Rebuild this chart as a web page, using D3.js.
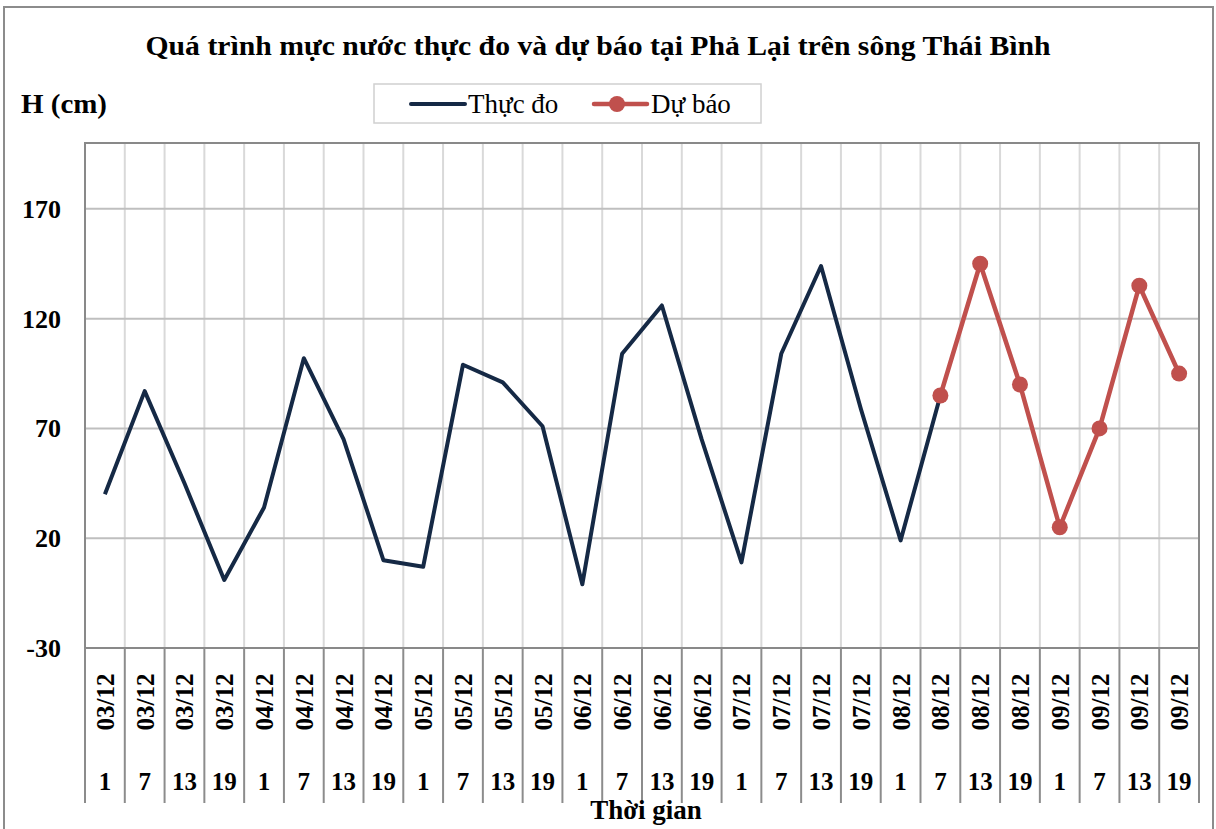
<!DOCTYPE html>
<html>
<head>
<meta charset="utf-8">
<script src="https://cdn.jsdelivr.net/npm/d3@7"></script>
<style>
  body { margin: 0; background: #fff; }
  text { font-family: "Liberation Serif", "Times New Roman", serif; fill: #000; }
</style>
</head>
<body>
<svg id="chart" width="1216" height="829"></svg>
<script>
const days = ["03/12", "04/12", "05/12", "06/12", "07/12", "08/12", "09/12"];
const hours = ["1", "7", "13", "19"];
const measured = [40, 87, 45, 1, 34, 102, 65, 10, 7, 99, 91, 71, -1, 104, 126, 65, 9, 104, 144, 79, 19, 85,
                  null, null, null, null, null, null];
const forecast = [null, null, null, null, null, null, null, null, null, null, null, null, null, null,
                  null, null, null, null, null, null, null, 85, 145, 90, 25, 70, 135, 95];
const yTicks = [-30, 20, 70, 120, 170];

const width = 1216;
const height = 829;
const plotLeft = 85, plotRight = 1199, plotTop = 143, plotBottom = 648;

const cats = [];
days.forEach(d => hours.forEach(h => cats.push({ day: d, hour: h, key: d + " " + h })));

const svg = d3.select("svg#chart");

// outer frame
svg.append("rect")
    .attr("x", 4).attr("y", 7)
    .attr("width", 1209).attr("height", 840)
    .attr("fill", "#fff")
    .attr("stroke", "#8c8c8c")
    .attr("stroke-width", 2);

const x = d3.scaleBand()
    .domain(cats.map(d => d.key))
    .range([plotLeft, plotRight]);

const y = d3.scaleLinear()
    .domain([-30, 200])
    .range([plotBottom, plotTop]);

const cx = i => x(cats[i].key) + x.bandwidth() / 2;

// vertical grid
svg.append("g")
    .attr("stroke", "#d9d9d9")
    .attr("stroke-width", 2)
    .selectAll("line")
    .data(cats.slice(1))
    .join("line")
    .attr("x1", d => x(d.key)).attr("x2", d => x(d.key))
    .attr("y1", plotTop).attr("y2", plotBottom);

// horizontal grid
svg.append("g")
    .attr("stroke", "#bfbfbf")
    .attr("stroke-width", 2)
    .selectAll("line")
    .data(yTicks.slice(1))
    .join("line")
    .attr("x1", plotLeft).attr("x2", plotRight)
    .attr("y1", d => y(d)).attr("y2", d => y(d));

// plot border
svg.append("rect")
    .attr("x", plotLeft).attr("y", plotTop)
    .attr("width", plotRight - plotLeft).attr("height", plotBottom - plotTop)
    .attr("fill", "none")
    .attr("stroke", "#898989")
    .attr("stroke-width", 2);

// y tick labels
svg.append("g")
    .selectAll("text")
    .data(yTicks)
    .join("text")
    .attr("x", 61)
    .attr("y", d => y(d) + 9)
    .attr("text-anchor", "end")
    .attr("font-size", 26)
    .attr("font-weight", "bold")
    .text(d => d);

// category dividers below the axis
const bounds = cats.map(d => x(d.key)).concat([plotRight]);
svg.append("g")
    .attr("stroke", "#8c8c8c")
    .attr("stroke-width", 2)
    .selectAll("line")
    .data(bounds)
    .join("line")
    .attr("x1", d => d).attr("x2", d => d)
    .attr("y1", plotBottom).attr("y2", 803);

// date labels (rotated)
svg.append("g")
    .selectAll("text")
    .data(cats)
    .join("text")
    .attr("transform", (d, i) => `translate(${cx(i) + 9},702) rotate(-90)`)
    .attr("text-anchor", "middle")
    .attr("font-size", 25)
    .attr("font-weight", "bold")
    .text(d => d.day);

// hour labels
svg.append("g")
    .selectAll("text")
    .data(cats)
    .join("text")
    .attr("x", (d, i) => cx(i))
    .attr("y", 790)
    .attr("text-anchor", "middle")
    .attr("font-size", 25)
    .attr("font-weight", "bold")
    .text(d => d.hour);

// lines
const line = d3.line()
    .defined(d => d != null)
    .x((d, i) => cx(i))
    .y(d => y(d));

svg.append("path")
    .datum(measured)
    .attr("fill", "none")
    .attr("stroke", "#152945")
    .attr("stroke-width", 4)
    .attr("stroke-linejoin", "round")
    .attr("d", line);

svg.append("path")
    .datum(forecast)
    .attr("fill", "none")
    .attr("stroke", "#c0504d")
    .attr("stroke-width", 4.5)
    .attr("stroke-linejoin", "round")
    .attr("d", line);

svg.append("g")
    .attr("fill", "#c0504d")
    .selectAll("circle")
    .data(forecast.map((v, i) => ({ v, i })).filter(d => d.v != null))
    .join("circle")
    .attr("cx", d => cx(d.i))
    .attr("cy", d => y(d.v))
    .attr("r", 8);

// title and axis titles
svg.append("text")
    .attr("x", 598).attr("y", 55)
    .attr("text-anchor", "middle")
    .attr("font-size", 28)
    .attr("font-weight", "bold")
    .attr("textLength", 905)
    .attr("lengthAdjust", "spacingAndGlyphs")
    .text("Quá trình mực nước thực đo và dự báo tại Phả Lại trên sông Thái Bình");

svg.append("text")
    .attr("x", 21).attr("y", 113)
    .attr("font-size", 28)
    .attr("font-weight", "bold")
    .attr("textLength", 86)
    .attr("lengthAdjust", "spacingAndGlyphs")
    .text("H (cm)");

svg.append("text")
    .attr("x", 646).attr("y", 819)
    .attr("text-anchor", "middle")
    .attr("font-size", 27)
    .attr("font-weight", "bold")
    .text("Thời gian");

// legend
const legend = svg.append("g");
legend.append("rect")
    .attr("x", 374).attr("y", 84)
    .attr("width", 387).attr("height", 39)
    .attr("fill", "#fff")
    .attr("stroke", "#d0d0d0")
    .attr("stroke-width", 1.5);
legend.append("line")
    .attr("x1", 411).attr("x2", 465).attr("y1", 104).attr("y2", 104)
    .attr("stroke", "#152945").attr("stroke-width", 4).attr("stroke-linecap", "round");
legend.append("text")
    .attr("x", 468).attr("y", 113)
    .attr("font-size", 27)
    .text("Thực đo");
legend.append("line")
    .attr("x1", 594).attr("x2", 647).attr("y1", 104).attr("y2", 104)
    .attr("stroke", "#c0504d").attr("stroke-width", 4.5).attr("stroke-linecap", "round");
legend.append("circle")
    .attr("cx", 617).attr("cy", 104).attr("r", 8)
    .attr("fill", "#c0504d");
legend.append("text")
    .attr("x", 651).attr("y", 113)
    .attr("font-size", 27)
    .text("Dự báo");
</script>
</body>
</html>
